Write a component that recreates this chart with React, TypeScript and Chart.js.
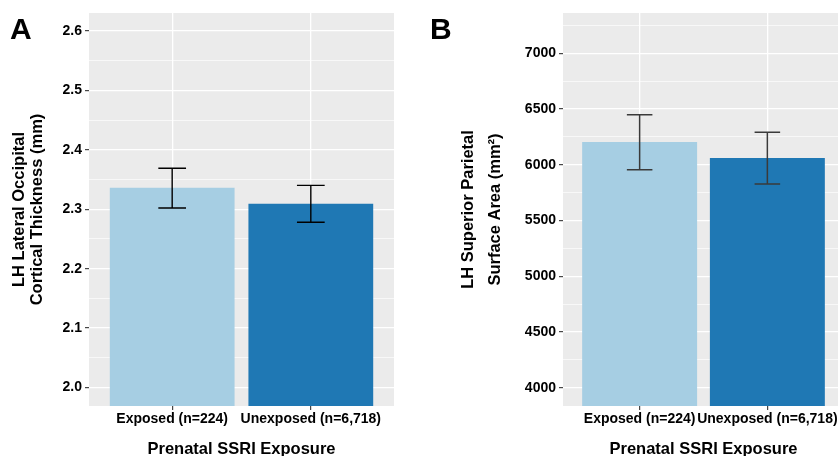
import { useEffect, useRef } from 'react';
import { Chart, registerables } from 'chart.js';

Chart.register(...registerables);

// ---- data ----
const categories = ['Exposed (n=224)', 'Unexposed (n=6,718)'];
const barColors = ['#a6cee3', '#1f78b4'];

const thicknessMeans = [2.336, 2.309];
const thicknessLower = [2.302, 2.278];
const thicknessUpper = [2.369, 2.34];
const thicknessTicks = [2.0, 2.1, 2.2, 2.3, 2.4, 2.5, 2.6];

const areaMeans = [6205, 6061];
const areaLower = [5956, 5828];
const areaUpper = [6450, 6292];
const areaTicks = [4000, 4500, 5000, 5500, 6000, 6500, 7000];

const FONT = "'Liberation Sans', Arial, Helvetica, sans-serif";

type PanelCfg = {
  label: string;
  means: number[];
  lower: number[];
  upper: number[];
  majorTicks: number[];
  yMin: number;
  yMax: number;
  fmt: (v: number) => string;
  yTitle: string[];
  yTitleLineHeight: string;
  yTitlePad: number;
  yAxisWidth: number;
  padRight: number;
  errColor: string;
  errWidth: number;
};

function buildChart(canvas: HTMLCanvasElement, cfg: PanelCfg) {
  const step = cfg.majorTicks[1] - cfg.majorTicks[0];
  const minor: number[] = [];
  const first = cfg.majorTicks[0];
  const last = cfg.majorTicks[cfg.majorTicks.length - 1];
  minor.push(first - step / 2);
  for (let i = 0; i < cfg.majorTicks.length - 1; i++) {
    minor.push((cfg.majorTicks[i] + cfg.majorTicks[i + 1]) / 2);
  }
  minor.push(last + step / 2);
  const allTicks = [
    ...cfg.majorTicks.map((v) => ({ value: v, major: true })),
    ...minor.filter((v) => v >= cfg.yMin && v <= cfg.yMax).map((v) => ({ value: v, major: false })),
  ].sort((a, b) => a.value - b.value);

  const isMajor = (ctx: any) => !!(ctx.tick && ctx.tick.major);

  const bgPlugin = {
    id: 'panelBg',
    beforeDraw(chart: any) {
      const { ctx, chartArea } = chart;
      ctx.save();
      ctx.fillStyle = '#ebebeb';
      ctx.fillRect(chartArea.left, chartArea.top, chartArea.right - chartArea.left, chartArea.bottom - chartArea.top);
      ctx.restore();
    },
  };

  const errPlugin = {
    id: 'errBars',
    afterDatasetsDraw(chart: any) {
      const { ctx } = chart;
      const x = chart.scales.x;
      const y = chart.scales.y;
      ctx.save();
      ctx.strokeStyle = cfg.errColor;
      ctx.lineWidth = cfg.errWidth;
      cfg.means.forEach((_, i) => {
        const xc = x.getPixelForValue(i + 1);
        const xl = x.getPixelForValue(i + 1 - 0.1);
        const xr = x.getPixelForValue(i + 1 + 0.1);
        const yt = y.getPixelForValue(cfg.upper[i]);
        const yb = y.getPixelForValue(cfg.lower[i]);
        ctx.beginPath();
        ctx.moveTo(xc, yt);
        ctx.lineTo(xc, yb);
        ctx.moveTo(xl, yt);
        ctx.lineTo(xr, yt);
        ctx.moveTo(xl, yb);
        ctx.lineTo(xr, yb);
        ctx.stroke();
      });
      ctx.restore();
    },
  };

  const labelPlugin = {
    id: 'panelLabel',
    afterDraw(chart: any) {
      const { ctx } = chart;
      ctx.save();
      ctx.fillStyle = '#000';
      ctx.font = `bold 30px ${FONT}`;
      ctx.textBaseline = 'alphabetic';
      ctx.textAlign = 'left';
      ctx.fillText(cfg.label, 10, 39);
      ctx.restore();
    },
  };

  return new Chart(canvas, {
    type: 'bar',
    data: {
      datasets: [
        {
          data: cfg.means.map((v, i) => ({ x: i + 1, y: v })),
          backgroundColor: barColors,
          borderWidth: 0,
          barPercentage: 0.9,
          categoryPercentage: 1.0,
        },
      ],
    },
    options: {
      animation: false,
      responsive: false,
      devicePixelRatio: 1,
      layout: { padding: { left: 0, top: 13, right: cfg.padRight, bottom: 0 } },
      plugins: { legend: { display: false }, tooltip: { enabled: false } },
      scales: {
        x: {
          type: 'linear',
          min: 0.4,
          max: 2.6,
          offset: false,
          bounds: 'data',
          afterBuildTicks: (scale: any) => {
            scale.ticks = categories.map((_, i) => ({ value: i + 1 }));
          },
          afterFit: (scale: any) => {
            scale.height = 50;
          },
          border: { display: false },
          grid: {
            offset: false,
            color: '#ffffff',
            lineWidth: 1.3,
            drawTicks: true,
            tickLength: 4,
            tickColor: '#333333',
            tickWidth: 1.1,
          },
          ticks: {
            autoSkip: false,
            maxRotation: 0,
            padding: 1,
            color: '#000',
            font: { family: FONT, size: 14, weight: 'bold' },
            callback: (v: any) => categories[Math.round(Number(v)) - 1] ?? '',
          },
          title: {
            display: true,
            text: 'Prenatal SSRI Exposure',
            color: '#000',
            font: { family: FONT, size: 16.5, weight: 'bold', lineHeight: '14px' },
            padding: { top: 0, bottom: 0 },
          },
        },
        y: {
          type: 'linear',
          min: cfg.yMin,
          max: cfg.yMax,
          bounds: 'data',
          afterBuildTicks: (scale: any) => {
            scale.ticks = allTicks.map((t) => ({ value: t.value, major: t.major }));
          },
          afterFit: (scale: any) => {
            scale.width = cfg.yAxisWidth;
          },
          border: { display: false },
          grid: {
            color: '#ffffff',
            lineWidth: (ctx: any) => (isMajor(ctx) ? 1.3 : 0.65),
            drawTicks: true,
            tickLength: 4,
            tickColor: (ctx: any) => (isMajor(ctx) ? '#333333' : 'rgba(0,0,0,0)'),
            tickWidth: 1.1,
          },
          ticks: {
            autoSkip: false,
            padding: 3,
            color: '#000',
            font: { family: FONT, size: 14, weight: 'bold' },
            callback: function (v: any, i: number) {
              const t = allTicks[i];
              return t && t.major ? cfg.fmt(Number(v)) : '';
            },
          },
          title: {
            display: true,
            text: cfg.yTitle,
            color: '#000',
            font: { family: FONT, size: 16.5, weight: 'bold', lineHeight: cfg.yTitleLineHeight },
            padding: { top: cfg.yTitlePad, bottom: 0 },
          },
        },
      },
    } as any,
    plugins: [bgPlugin, errPlugin, labelPlugin],
  });
}

export default function App() {
  const refA = useRef<HTMLCanvasElement>(null);
  const refB = useRef<HTMLCanvasElement>(null);

  useEffect(() => {
    const a = buildChart(refA.current!, {
      label: 'A',
      means: thicknessMeans,
      lower: thicknessLower,
      upper: thicknessUpper,
      majorTicks: thicknessTicks,
      yMin: 1.969,
      yMax: 2.63,
      fmt: (v) => v.toFixed(1),
      yTitle: ['LH Lateral Occipital', 'Cortical Thickness (mm)'],
      yTitleLineHeight: '17.5px',
      yTitlePad: 10.8,
      yAxisWidth: 89,
      padRight: 26,
      errColor: '#000000',
      errWidth: 1.4,
    });
    const b = buildChart(refB.current!, {
      label: 'B',
      means: areaMeans,
      lower: areaLower,
      upper: areaUpper,
      majorTicks: areaTicks,
      yMin: 3836,
      yMax: 7362,
      fmt: (v) => String(Math.round(v)),
      yTitle: ['LH Superior Parietal', 'Surface Area (mm\u00B2)'],
      yTitleLineHeight: '26.7px',
      yTitlePad: 35.2,
      yAxisWidth: 143,
      padRight: 0,
      errColor: '#3a3a3a',
      errWidth: 1.5,
    });
    return () => {
      a.destroy();
      b.destroy();
    };
  }, []);

  return (
    <div
      style={{
        position: 'absolute',
        left: 0,
        top: 0,
        width: 838,
        height: 456,
        overflow: 'hidden',
        background: '#ffffff',
      }}
    >
      <canvas
        ref={refA}
        width={420}
        height={456}
        style={{ position: 'absolute', left: 0, top: 0, width: 420, height: 456 }}
      />
      <canvas
        ref={refB}
        width={424}
        height={456}
        style={{ position: 'absolute', left: 420, top: 0, width: 424, height: 456 }}
      />
    </div>
  );
}
